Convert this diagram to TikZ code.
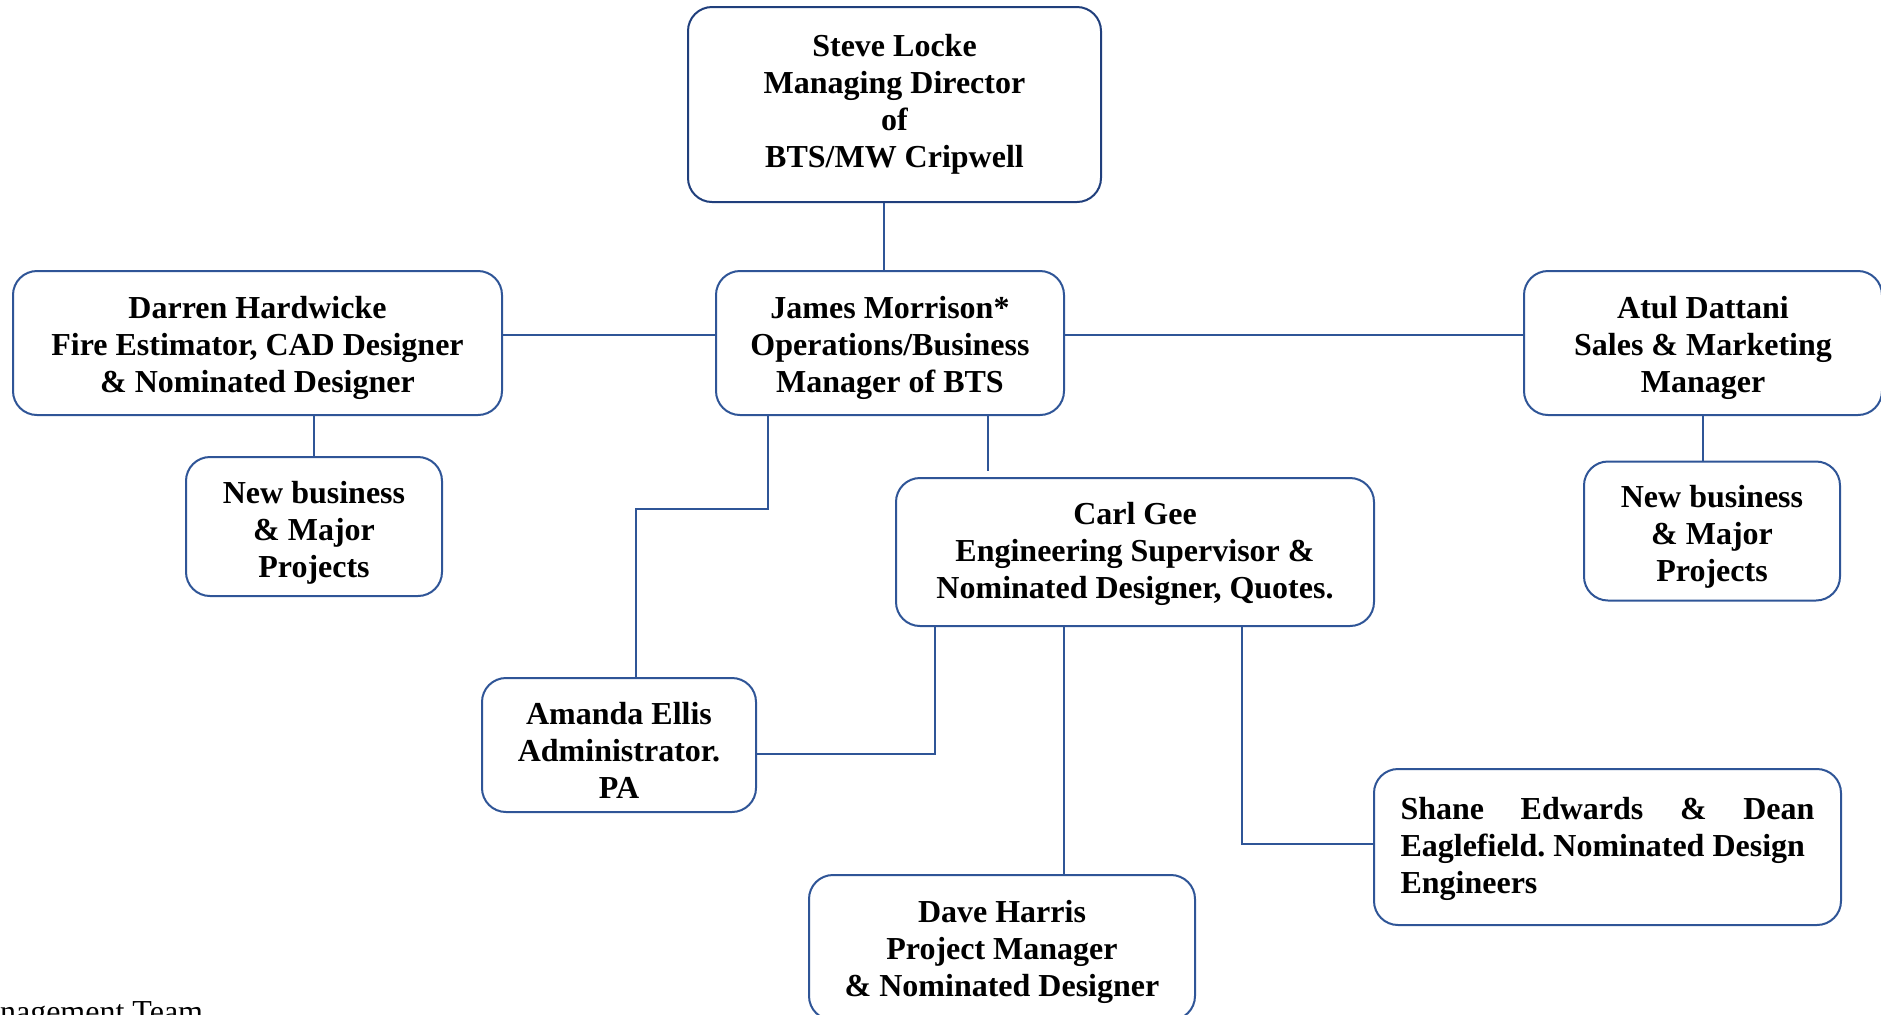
\documentclass[tikz,border=0pt]{standalone}
\usepackage{fontspec}
\setmainfont{Liberation Serif}
\definecolor{boxblue}{HTML}{2F5597}
\definecolor{topblue}{HTML}{203F7C}
\newcommand{\orgstrut}[1][16pt]{\rule{0pt}{#1}}
\tikzset{
  orgbox/.style 2 args={draw=boxblue, line width=1pt, rounded corners=12pt, fill=white,
    align=center, inner sep=0pt, font=\bfseries\fontsize{16}{18.5}\selectfont,
    minimum width=#1*0.5pt, minimum height=#2*0.5pt},
  link/.style={draw=boxblue, line width=1pt}
}
\begin{document}
\begin{tikzpicture}[x=0.5pt, y=-0.5pt]
\useasboundingbox (0,0) rectangle (1881,1014);
\clip (0,0) rectangle (1881,1014);

\node[orgbox={413}{195}, draw=topblue] (steve) at (894.5,104.5) {Steve Locke\\Managing Director\\of\\BTS/MW Cripwell};
\node[orgbox={489}{144}] (darren) at (257.5,343) {\orgstrut Darren Hardwicke\\Fire Estimator, CAD Designer\\\& Nominated Designer};
\node[orgbox={348}{144}] (james) at (890,343) {\orgstrut James Morrison*\\Operations/Business\\Manager of BTS};
\node[orgbox={358}{144}] (atul) at (1703,343) {\orgstrut Atul Dattani\\Sales \& Marketing\\Manager};
\node[orgbox={256}{139}] (nbl) at (314,526.5) {\orgstrut[17pt]New business\\\& Major\\Projects};
\node[orgbox={256}{139}] (nbr) at (1712,531) {\orgstrut[17pt]New business\\\& Major\\Projects};
\node[orgbox={478}{148}] (carl) at (1135,552) {\orgstrut[13pt]Carl Gee\\Engineering Supervisor \&\\Nominated Designer, Quotes.};
\node[orgbox={274}{134}] (amanda) at (619,745) {\orgstrut Amanda Ellis\\Administrator.\\PA};
\node[orgbox={467}{156}, align=justify, text width=207pt] (shane) at (1607.5,847) {\orgstrut[13pt]Shane Edwards \& Dean\linebreak \mbox{Eaglefield.\ Nominated Design}\\Engineers};
\node[orgbox={386}{145}] (dave) at (1002,947.5) {\orgstrut Dave Harris\\Project Manager\\\& Nominated Designer};

\node[anchor=base west, inner sep=0pt, font=\fontsize{16}{18.5}\selectfont] (team) at (-43,1022) {Management Team};

\coordinate (vSteve) at (884,0);
\coordinate (hMid) at (0,335);
\coordinate (vJA) at (768,0);
\coordinate (hJA) at (0,509);
\coordinate (vAm) at (636,0);
\coordinate (vJC) at (988,0);
\coordinate (vCA) at (935,0);
\coordinate (hCA) at (0,754);
\coordinate (vCD) at (1064,0);
\coordinate (vCS) at (1242,0);
\coordinate (hCS) at (0,844);

\draw[link] (steve.south -| vSteve) -- (james.north -| vSteve);
\draw[link] (darren.east |- hMid) -- (james.west |- hMid);
\draw[link] (james.east |- hMid) -- (atul.west |- hMid);
\draw[link] (darren.south -| nbl.north) -- (nbl.north);
\draw[link] (atul.south) -- (atul.south |- nbr.north);
\draw[link] (james.south -| vJA) -- (vJA |- hJA) -- (vAm |- hJA) -- (amanda.north -| vAm);
\draw[link, shorten >=3pt] (james.south -| vJC) -- (carl.north -| vJC);
\draw[link] (carl.south -| vCA) -- (vCA |- hCA) -- (amanda.east |- hCA);
\draw[link] (carl.south -| vCD) -- (dave.north -| vCD);
\draw[link] (carl.south -| vCS) -- (vCS |- hCS) -- (shane.west |- hCS);
\end{tikzpicture}
\end{document}
